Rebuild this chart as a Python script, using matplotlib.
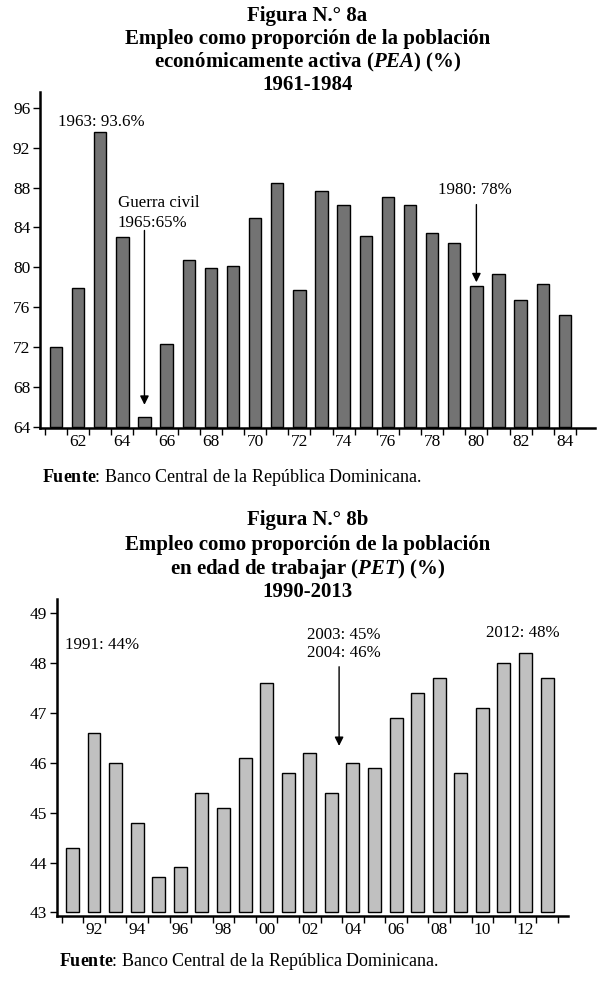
import numpy as np
import matplotlib
matplotlib.use('Agg')
import matplotlib.pyplot as plt

plt.rcParams['font.family'] = ['Liberation Serif', 'DejaVu Serif']
# serif maths for the italic PEA / PET and the bold "Fuente"
plt.rcParams['mathtext.fontset'] = 'custom'
plt.rcParams['mathtext.rm'] = 'Liberation Serif'
plt.rcParams['mathtext.it'] = 'Liberation Serif:italic'
plt.rcParams['mathtext.bf'] = 'Liberation Serif:bold'
plt.rcParams['mathtext.bfit'] = 'Liberation Serif:bold:italic'

Fsize = 15      # titles
Lsize = 12.5    # tick labels
Asize = 12.2    # annotations
Ssize = 13      # fuente

# Figura 8a : empleo / PEA 1961-1984
years_a = np.arange(1961, 1985)
pea = [72.0, 77.9, 93.6, 83.0, 65.0, 72.3, 80.7, 79.9, 80.1, 85.0, 88.5, 77.7,
       87.7, 86.3, 83.1, 87.1, 86.3, 83.4, 82.4, 78.1, 79.3, 76.7, 78.3, 75.2]
ticks_a = np.arange(1962, 1985, 2)
ticklab_a = ['62', '64', '66', '68', '70', '72', '74', '76', '78', '80', '82', '84']

# Figura 8b : empleo / PET 1991-2013
years_b = np.arange(1991, 2014)
pet = [44.3, 46.6, 46.0, 44.8, 43.7, 43.9, 45.4, 45.1, 46.1, 47.6, 45.8, 46.2,
       45.4, 46.0, 45.9, 46.9, 47.4, 47.7, 45.8, 47.1, 48.0, 48.2, 47.7]
ticks_b = np.arange(1992, 2013, 2)
ticklab_b = ['92', '94', '96', '98', '00', '02', '04', '06', '08', '10', '12']

fig = plt.figure(figsize=(6.15, 9.91), dpi=100)
H = 991.


def fy(px):
    return 1 - px / H


def style_axis(ax, years, ticks, ticklab):
    for s in ['top', 'right']:
        ax.spines[s].set_visible(False)
    ax.spines['left'].set_linewidth(1.8)
    ax.spines['bottom'].set_linewidth(1.8)
    # small ticks between bars, labels on bar centres
    ax.set_xticks(np.append(years - 0.5, years[-1] + 0.5))
    ax.set_xticklabels([])
    ax.set_xticks(ticks, minor=True)
    ax.set_xticklabels(ticklab, minor=True)
    ax.tick_params(axis='x', which='major', direction='out', length=5, width=1)
    ax.tick_params(axis='x', which='minor', length=0, labelsize=Lsize, pad=4)
    ax.tick_params(axis='y', direction='out', length=5, width=1, labelsize=Lsize, pad=2)


def arrow(ax, x, y0, y1):
    ax.annotate('', xy=(x, y1), xytext=(x, y0),
                arrowprops=dict(arrowstyle='-|>', color='black', lw=1,
                                mutation_scale=13, shrinkA=0, shrinkB=0))


def fuente(x, y):
    fig.text(x, y, r'$\mathbf{Fuente}$: Banco Central de la República Dominicana.',
             fontsize=Ssize, va='center', ha='left')


def titulo(lines, ys):
    for txt, yy in zip(lines, ys):
        fig.text(0.5, fy(yy), txt, ha='center', va='center', fontsize=Fsize,
                 fontweight='bold')


# ---- figura 8a
titulo(['Figura N.° 8a',
        'Empleo como proporción de la población',
        r'económicamente activa ($\mathbfit{PEA}$) (%)',
        '1961-1984'], [16, 39, 62, 85])

ax1 = fig.add_axes([40 / 615., fy(428), (595 - 40) / 615., (428 - 92) / H])
ax1.bar(years_a, np.array(pea) - 64, bottom=64, width=0.56, color='#737373',
        edgecolor='black', linewidth=1)
ax1.set_xlim(1960.28, 1985.36)
ax1.set_ylim(63.87, 97.6)
ax1.set_yticks(np.arange(64, 97, 4))
style_axis(ax1, years_a, ticks_a, ticklab_a)

ax1.text(1961.09, 94.56, '1963: 93.6%', fontsize=Asize, va='center', ha='left')
ax1.text(1963.8, 86.5, 'Guerra civil', fontsize=Asize, va='center', ha='left')
ax1.text(1963.8, 84.4, '1965:65%', fontsize=Asize, va='center', ha='left')
arrow(ax1, 1965, 83.7, 66.2)
ax1.text(1978.26, 87.74, '1980: 78%', fontsize=Asize, va='center', ha='left')
arrow(ax1, 1980, 86.3, 78.5)

fuente(42 / 615., fy(477))

# ---- figura 8b
titulo(['Figura N.° 8b',
        'Empleo como proporción de la población',
        r'en edad de trabajar ($\mathbfit{PET}$) (%)',
        '1990-2013'], [520, 545, 569, 592])

ax2 = fig.add_axes([56.7 / 615., fy(916), (568 - 56.7) / 615., (916 - 599) / H])
ax2.bar(years_b, np.array(pet) - 43, bottom=43, width=0.6, color='#c0c0c0',
        edgecolor='black', linewidth=1)
ax2.set_xlim(1990.27, 2013.97)
ax2.set_ylim(42.926, 49.29)
ax2.set_yticks(np.arange(43, 50, 1))
style_axis(ax2, years_b, ticks_b, ticklab_b)

ax2.text(1990.65, 48.37, '1991: 44%', fontsize=Asize, va='center', ha='left')
ax2.text(2001.87, 48.57, '2003: 45%', fontsize=Asize, va='center', ha='left')
ax2.text(2001.87, 48.21, '2004: 46%', fontsize=Asize, va='center', ha='left')
arrow(ax2, 2003.36, 47.93, 46.34)
ax2.text(2010.17, 48.61, '2012: 48%', fontsize=Asize, va='center', ha='left')

fuente(59 / 615., fy(962))

plt.savefig('out.png', dpi=100)
